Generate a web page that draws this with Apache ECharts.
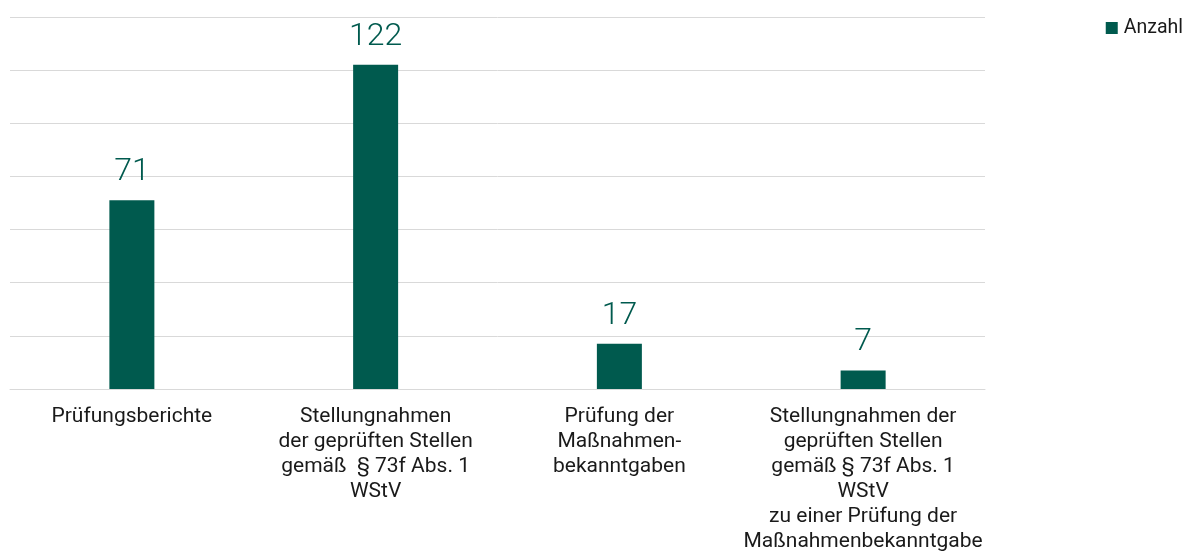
<!DOCTYPE html>
<html>
<head>
<meta charset="utf-8">
<script src="https://cdn.jsdelivr.net/npm/echarts@6/dist/echarts.min.js"></script>
<style>
html,body{margin:0;padding:0;background:#fff;}
#chart{width:1189px;height:554px;}
</style>
</head>
<body>
<div id="chart"></div>
<script>
const categories = [
  "Prüfungsberichte",
  "Stellungnahmen\nder geprüften Stellen\ngemäß  § 73f Abs. 1\nWStV",
  "Prüfung der\nMaßnahmen-\nbekanntgaben",
  "Stellungnahmen der\ngeprüften Stellen\ngemäß § 73f Abs. 1\nWStV\nzu einer Prüfung der\nMaßnahmenbekanntgabe"
];
const seriesName = "Anzahl";
const values = [71, 122, 17, 7];

const green = "#005a4e";
const chart = echarts.init(document.getElementById('chart'));
chart.setOption({
  animation: false,
  textStyle: { fontFamily: 'Roboto' },
  legend: {
    show: true,
    right: 1,
    top: 13,
    itemWidth: 12,
    itemHeight: 12,
    icon: 'rect',
    itemGap: 5,
    textStyle: { fontFamily: 'Roboto', fontSize: 19.5, color: '#1a1a1a', padding: [0, 0, 0, 1] },
    data: [seriesName]
  },
  grid: { left: 10, right: 204, top: 17, bottom: 164, containLabel: false },
  xAxis: {
    type: 'category',
    data: categories,
    axisLine: { lineStyle: { color: '#d9d9d9', width: 1 } },
    axisTick: { show: false },
    axisLabel: {
      interval: 0,
      hideOverlap: false,
      margin: 15,
      fontFamily: 'Roboto',
      fontSize: 21,
      lineHeight: 25,
      color: '#1a1a1a',
      align: 'center'
    }
  },
  yAxis: {
    type: 'value',
    min: 0,
    max: 140,
    interval: 20,
    axisLabel: { show: false },
    axisLine: { show: false },
    axisTick: { show: false },
    splitLine: { lineStyle: { color: '#d9d9d9', width: 1 } }
  },
  series: [{
    name: seriesName,
    type: 'bar',
    data: values,
    barWidth: 45,
    itemStyle: { color: green },
    label: {
      show: true,
      position: 'top',
      distance: 12,
      fontFamily: 'Roboto',
      fontWeight: 300,
      fontSize: 32,
      color: green
    }
  }]
});
</script>
</body>
</html>
